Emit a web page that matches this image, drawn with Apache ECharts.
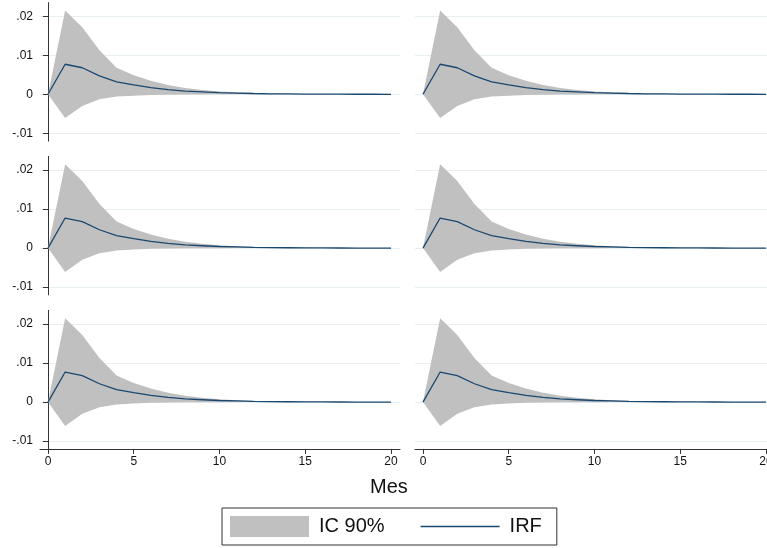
<!DOCTYPE html>
<html>
<head>
<meta charset="utf-8">
<script src="https://cdn.jsdelivr.net/npm/echarts@6/dist/echarts.min.js"></script>
<style>
  html, body { margin: 0; background: #fff; }
  #chart { width: 767px; height: 548px; }
</style>
</head>
<body>
<div id="chart"></div>
<script>
// meses 0..20, IRF e intervalo de confianza al 90%
const months = [0, 1, 2, 3, 4, 5, 6, 7, 8, 9, 10, 11, 12, 13, 14, 15, 16, 17, 18, 19, 20]
const irf = [0, 0.0077, 0.0068, 0.0047, 0.0032, 0.0024, 0.0017, 0.0012, 0.0008, 0.0006, 0.0004,
  0.0003, 0.0002, 0.00012, 0.00008, 0.00005, 0.00003, 0.00002, 0.00001, 0.00001, 0]
const ciUpper = [0, 0.0215, 0.0172, 0.0113, 0.0068, 0.0049, 0.0035, 0.0024, 0.0016, 0.0011, 0.0007,
  0.0005, 0.0003, 0.0002, 0.00012, 0.00008, 0.00005, 0.00003, 0.00002, 0.00001, 0]
const ciLower = [0, -0.0061, -0.003, -0.0013, -0.0006, -0.00035, -0.0002, -0.0001, -0.00005, -0.00003, -0.00002,
  -0.00001, 0, 0, 0, 0, 0, 0, 0, 0, 0]
const xTicks = [0, 5, 10, 15, 20]
const yTicks = [-0.01, 0, 0.01, 0.02]

const colors = {
  band: '#c0c0c0',
  line: '#1a476f',
  grid: '#e7eff2',
  axis: '#333333',
  text: '#111111',
}
const font = '"Liberation Sans", Arial, Helvetica, sans-serif'

const rowTops = [2.6, 156.4, 310.4]
const colLefts = [40, 415]

const grid = []
const xAxis = []
const yAxis = []
const series = []

function fmtY(v) {
  if (v === 0) return '0'
  return String(v).replace('0.', '.')
}

// banda completa como un solo polígono (arriba de izq. a der., abajo de der. a izq.)
function renderBand(params, api) {
  if (params.dataIndex !== 0) return
  const upper = months.map((m, k) => api.coord([m, ciUpper[k]]))
  const lower = months.map((m, k) => api.coord([m, ciLower[k]])).reverse()
  return {
    type: 'polygon',
    shape: { points: upper.concat(lower) },
    style: { fill: colors.band },
  }
}

rowTops.forEach((top, r) => {
  colLefts.forEach((left, c) => {
    const i = grid.length
    const bottomRow = r === rowTops.length - 1
    const leftCol = c === 0
    grid.push({ left, top, width: 360, height: 138.5, outerBoundsMode: 'none', containLabel: false })
    xAxis.push({
      type: 'value',
      gridIndex: i,
      min: -0.466,
      max: 20.525,
      axisLine: { show: bottomRow, onZero: false, lineStyle: { color: colors.axis, width: 1 } },
      axisTick: { show: bottomRow, customValues: xTicks, length: 5, lineStyle: { color: colors.axis } },
      axisLabel: { show: bottomRow, customValues: xTicks, color: colors.text, fontSize: 12, fontFamily: font, margin: 7 },
      splitLine: { show: false },
    })
    yAxis.push({
      type: 'value',
      gridIndex: i,
      min: -0.012,
      max: 0.0235,
      axisLine: { show: leftCol, lineStyle: { color: colors.axis, width: 1 } },
      axisTick: { show: leftCol, customValues: yTicks, length: 5, lineStyle: { color: colors.axis } },
      axisLabel: { show: leftCol, customValues: yTicks, formatter: fmtY, color: colors.text, fontSize: 12, fontFamily: font, margin: 7 },
      splitLine: { show: true, lineStyle: { color: colors.grid, width: 1 } },
    })
    series.push({
      name: 'IC 90%',
      type: 'custom',
      xAxisIndex: i,
      yAxisIndex: i,
      silent: true,
      clip: true,
      itemStyle: { color: colors.band },
      encode: { x: 0, y: [1, 2] },
      data: months.map((m, k) => [m, ciLower[k], ciUpper[k]]),
      renderItem: renderBand,
    })
    series.push({
      name: 'IRF',
      type: 'line',
      xAxisIndex: i,
      yAxisIndex: i,
      symbol: 'none',
      silent: true,
      itemStyle: { color: colors.line },
      lineStyle: { color: colors.line, width: 1.3 },
      data: months.map((m, k) => [m, irf[k]]),
    })
  })
})

const chart = echarts.init(document.getElementById('chart'))
chart.setOption({
  animation: false,
  backgroundColor: '#ffffff',
  title: {
    text: 'Mes',
    left: 370,
    top: 477,
    padding: 0,
    textStyle: { fontSize: 20, fontWeight: 'normal', color: colors.text, fontFamily: font },
  },
  legend: {
    left: 222,
    top: 508,
    padding: [8, 15, 8, 8],
    borderColor: colors.axis,
    borderWidth: 1,
    itemWidth: 79,
    itemHeight: 21,
    itemGap: 36,
    selectedMode: false,
    textStyle: { fontSize: 20, color: colors.text, fontFamily: font, padding: [0, 0, 0, 5] },
    data: [
      { name: 'IC 90%', icon: 'rect' },
      { name: 'IRF', icon: 'path://M0,0H60V1H0Z' },
    ],
  },
  grid,
  xAxis,
  yAxis,
  series,
})
</script>
</body>
</html>
